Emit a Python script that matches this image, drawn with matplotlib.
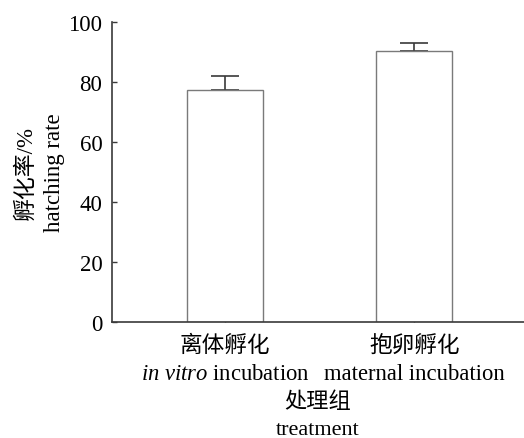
import matplotlib
matplotlib.use("Agg")
import matplotlib.pyplot as plt
import numpy as np

# 데이터
groups = ["离体孵化\n$\\mathit{in\\ vitro}$ incubation", "抱卵孵化\nmaternal incubation"]
hatch_rate = [77.2, 90.4]
hatch_err = [4.7, 2.7]
yticks = [0, 20, 40, 60, 80, 100]

plt.rcParams["font.family"] = ["Liberation Serif", "Noto Sans CJK SC"]
plt.rcParams["mathtext.fontset"] = "custom"
plt.rcParams["mathtext.rm"] = "Liberation Serif"
plt.rcParams["mathtext.it"] = "Liberation Serif:italic"

AX_COLOR = "#3a3a3a"
BAR_EDGE = "#7a7a7a"

fig = plt.figure(figsize=(5.24, 4.39), dpi=100)
ax = fig.add_axes([0.2137, 0.2642, 0.7863, 0.6834])

x = np.arange(len(groups))
ax.bar(x, hatch_rate, width=0.40, color="white", edgecolor=BAR_EDGE, linewidth=1.0, zorder=2)
ax.errorbar(x, hatch_rate, yerr=[[0] * len(hatch_err), hatch_err], fmt="none",
            ecolor=AX_COLOR, elinewidth=1.2, capsize=9.8, capthick=1.2, zorder=1)

ax.set_xlim(-0.598, 1.58)
ax.set_ylim(0, 100)
ax.set_yticks(yticks)
ax.set_xticks(x)
ax.set_xticklabels(groups, fontsize=16.3, linespacing=1.45)
ax.tick_params(axis="y", labelsize=16.5, direction="in", length=3.4, width=1.0,
               color=AX_COLOR, pad=7)
ax.tick_params(axis="x", direction="in", length=3.4, width=1.0, color=AX_COLOR, pad=9)

for s in ["top", "right"]:
    ax.spines[s].set_visible(False)
for s in ["left", "bottom"]:
    ax.spines[s].set_color(AX_COLOR)
    ax.spines[s].set_linewidth(1.2)

ax.set_ylabel("孵化率/%\nhatching rate", fontsize=16.5, linespacing=1.5, labelpad=2)
ax.set_xlabel("处理组\ntreatment", fontsize=16, linespacing=1.6, labelpad=5)

fig.savefig("out.png", dpi=100)
